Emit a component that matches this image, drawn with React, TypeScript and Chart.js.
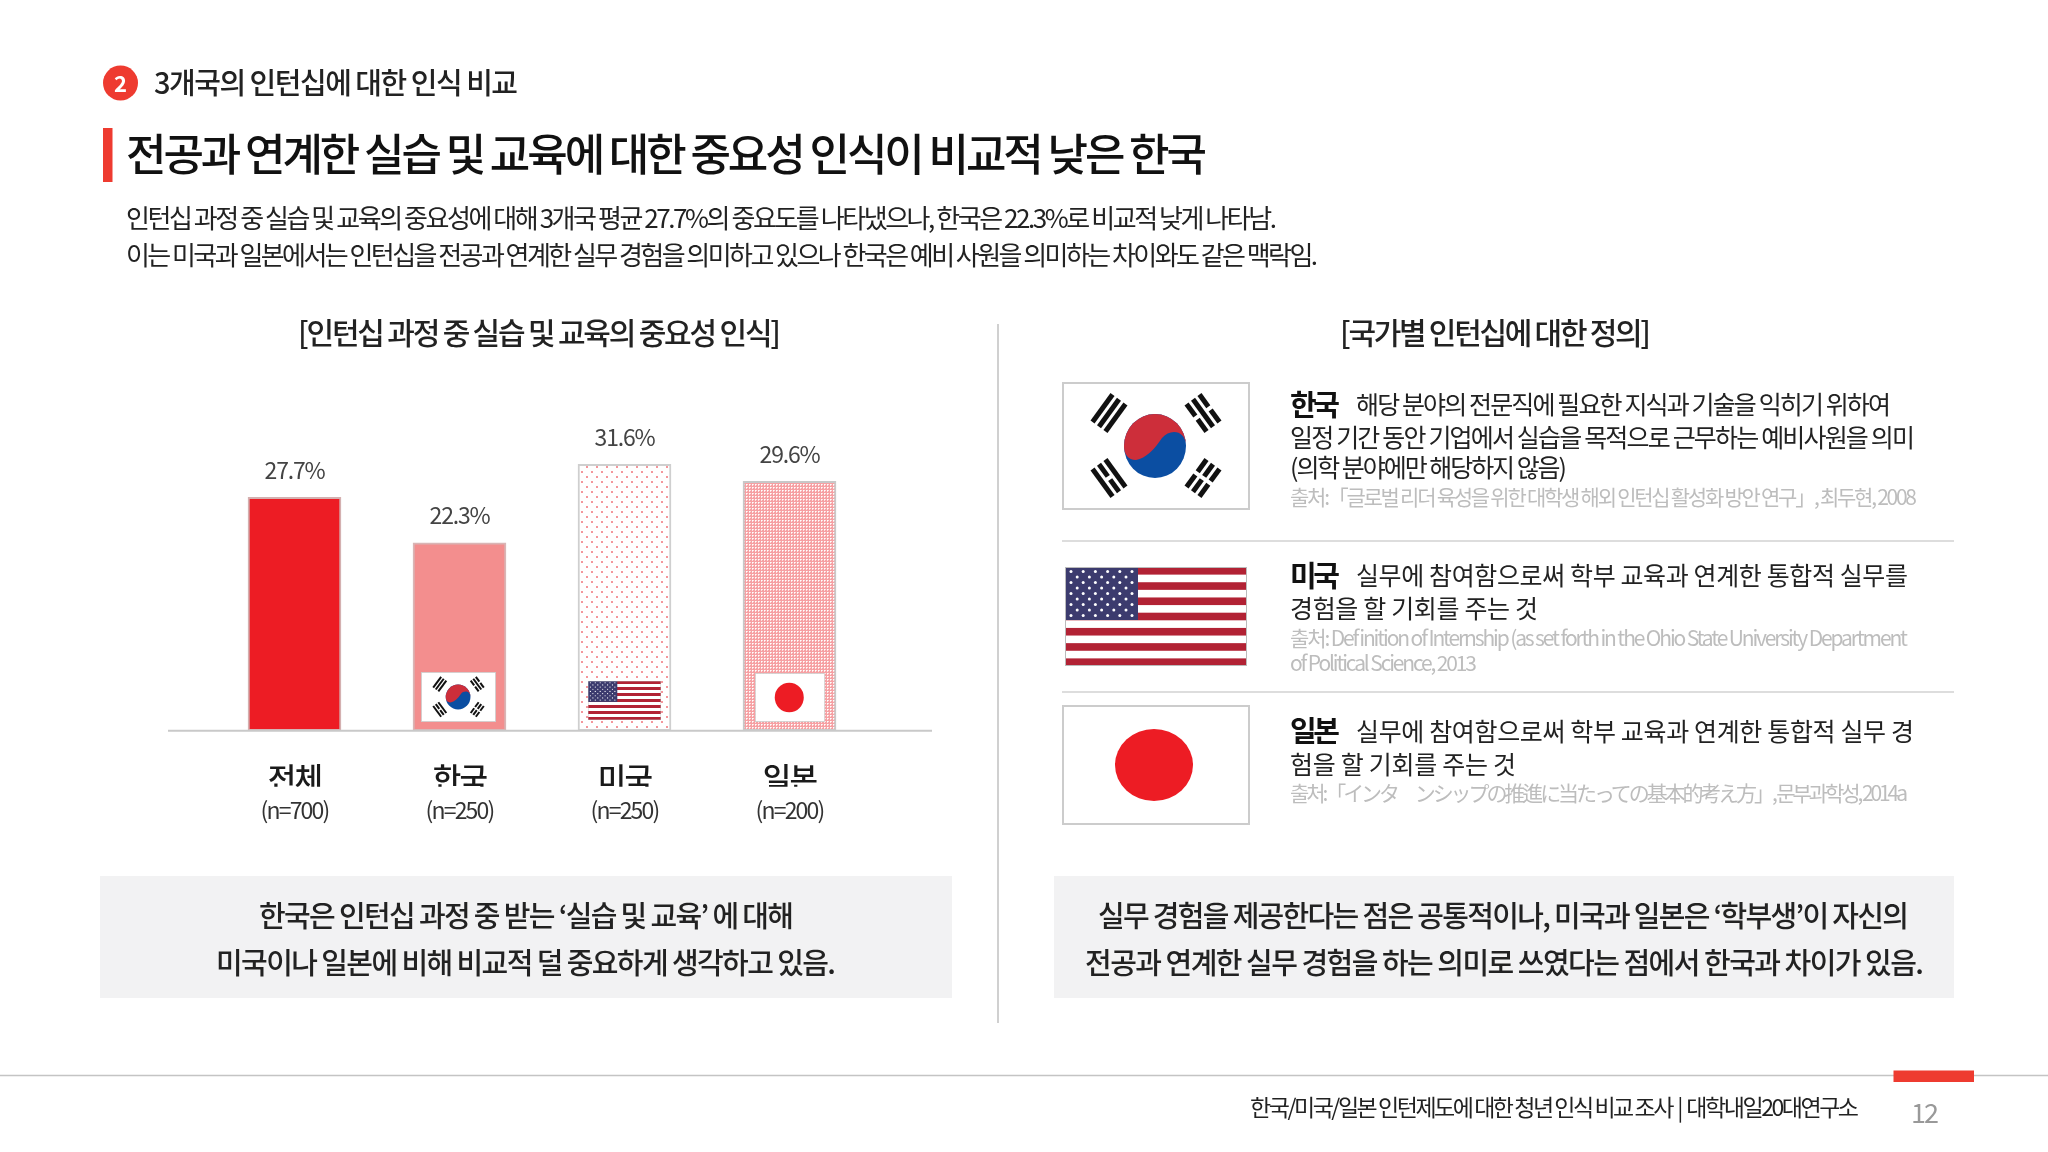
import { useEffect, useRef } from "react";
import Chart from "chart.js/auto";

const categories = ["전체", "한국", "미국", "일본"];
const sampleSizes = ["(n=700)", "(n=250)", "(n=250)", "(n=200)"];
const importance = [27.7, 22.3, 31.6, 29.6];

const FONT = '"Noto Sans CJK KR", "Noto Sans", sans-serif';
const RED = "#ed1c24";

// dotted / hatched fills for the US and Japan bars
function makePattern(kind: "dots" | "dense") {
  const tile = document.createElement("canvas");
  const size = kind === "dots" ? 10 : 3;
  tile.width = size;
  tile.height = size;
  const c = tile.getContext("2d")!;
  if (kind === "dots") {
    c.fillStyle = "#ffffff";
    c.fillRect(0, 0, size, size);
    c.fillStyle = "#f4979c";
    c.fillRect(1, 1, 2, 2);
    c.fillRect(6, 6, 2, 2);
  } else {
    c.fillStyle = "#f6a0a3";
    c.fillRect(0, 0, size, size);
    c.fillStyle = "#ffffff";
    c.fillRect(0, 0, 1, 1);
    c.fillStyle = "#fde0e0";
    c.fillRect(1, 0, 1, 1);
    c.fillRect(0, 1, 1, 1);
  }
  return c.createPattern(tile, "repeat")!;
}

function ImportanceChart() {
  const ref = useRef<HTMLCanvasElement | null>(null);

  useEffect(() => {
    if (!ref.current) return;
    const ctx = ref.current.getContext("2d");
    if (!ctx) return;

    const chart = new Chart(ctx, {
      type: "bar",
      data: {
        labels: categories,
        datasets: [
          {
            data: importance,
            backgroundColor: [RED, "#f38e8e", makePattern("dots"), makePattern("dense")],
            borderColor: ["#d4b0b0", "#d9b5b5", "#cfcfcf", "#c8c8c8"],
            borderWidth: 2,
            borderSkipped: false,
            barThickness: 93,
          },
        ],
      },
      options: {
        responsive: false,
        animation: false,
        layout: { padding: { left: 72, right: 88, top: 35.7, bottom: 33.3 } },
        plugins: { legend: { display: false }, tooltip: { enabled: false } },
        scales: {
          x: {
            grid: { display: false },
            border: { display: false },
            afterFit: (scale: any) => {
              scale.height = 56;
            },
            ticks: {
              color: "#1a1a1a",
              font: { family: FONT, size: 31, weight: 500 },
              padding: 21,
              maxRotation: 0,
              autoSkip: false,
            },
          },
          n: {
            type: "category",
            position: "bottom",
            labels: sampleSizes,
            grid: { display: false },
            border: { display: false },
            afterFit: (scale: any) => {
              scale.height = 40;
            },
            ticks: {
              color: "#333333",
              font: { family: FONT, size: 23 },
              padding: 2,
              maxRotation: 0,
              autoSkip: false,
            },
          },
          y: { display: false, min: 0, max: 35 },
        },
      },
      plugins: [
        {
          id: "tightText",
          beforeDraw: (c: Chart) => {
            (c.ctx as any).letterSpacing = "-1.8px";
          },
        },
        {
          id: "baselineAndValues",
          afterDatasetsDraw: (c: Chart) => {
            const g = c.ctx;
            const y0 = c.scales.y.getPixelForValue(0);
            g.save();
            g.strokeStyle = "#c9c9c9";
            g.lineWidth = 2;
            g.beginPath();
            g.moveTo(c.scales.x.left - 44, y0);
            g.lineTo(c.scales.x.right + 60, y0);
            g.stroke();
            (g as any).letterSpacing = "-1.2px";
            g.fillStyle = "#444444";
            g.font = `23px ${FONT}`;
            g.textAlign = "center";
            g.textBaseline = "middle";
            c.getDatasetMeta(0).data.forEach((bar, i) => {
              g.fillText(`${importance[i]}%`, bar.x, bar.y - 27);
            });
            g.restore();
          },
        },
      ],
    });

    return () => chart.destroy();
  }, []);

  return (
    <canvas
      ref={ref}
      width={820}
      height={460}
      style={{ position: "absolute", left: 140, top: 400, width: 820, height: 460 }}
    />
  );
}

// text stretched to the measured width of each line
function T(props: {
  x: number;
  y: number;
  w: number;
  size: number;
  weight?: number;
  fill?: string;
  children: string;
}) {
  const { x, y, w, size, weight = 400, fill = "#222222", children } = props;
  return (
    <text
      x={x}
      y={y}
      textLength={w}
      lengthAdjust="spacing"
      dominantBaseline="central"
      fontFamily={FONT}
      fontSize={size}
      fontWeight={weight}
      fill={fill}
      xmlSpace="preserve"
    >
      {children}
    </text>
  );
}

function Trigram(props: { cx: number; cy: number; angle: number; broken: boolean[] }) {
  const { cx, cy, angle, broken } = props;
  return (
    <g transform={`translate(${cx} ${cy}) rotate(${angle})`} fill="#111111">
      {broken.map((b, i) => {
        const y = -8 + i * 8 - 2.5;
        return b ? (
          <g key={i}>
            <rect x={-17} y={y} width={15} height={5} />
            <rect x={2} y={y} width={15} height={5} />
          </g>
        ) : (
          <rect key={i} x={-17} y={y} width={34} height={5} />
        );
      })}
    </g>
  );
}

function KoreaFlag(props: { x: number; y: number; w: number; h: number }) {
  const { x, y, w, h } = props;
  return (
    <svg x={x} y={y} width={w} height={h} viewBox="0 0 188 128" preserveAspectRatio="none">
      <rect x="1" y="1" width="186" height="126" fill="#ffffff" stroke="#cccccc" strokeWidth="2" />
      <Trigram cx={47} cy={31} angle={-54} broken={[false, false, false]} />
      <Trigram cx={141} cy={31} angle={54} broken={[true, false, true]} />
      <Trigram cx={47} cy={96} angle={54} broken={[false, true, false]} />
      <Trigram cx={141} cy={96} angle={-54} broken={[true, true, true]} />
      <ellipse cx="93" cy="64" rx="31" ry="32" fill="#0b4ea2" />
      <path
        d="M62 64 A31 32 0 0 1 124 64 C124 48 108 46 100 56 C92 68 84 76 74 78 C66 78 62 72 62 64 Z"
        fill="#cd2e3a"
      />
    </svg>
  );
}

function UsFlag(props: { x: number; y: number; w: number; h: number }) {
  const { x, y, w, h } = props;
  const stripes = Array.from({ length: 13 }, (_, i) => i);
  const stars: [number, number][] = [];
  for (let r = 0; r < 9; r++) {
    const n = r % 2 === 0 ? 6 : 5;
    for (let k = 0; k < n; k++) {
      stars.push([(r % 2 === 0 ? 6 : 12.2) + k * 12.2, 4.4 + r * 5.5]);
    }
  }
  return (
    <svg x={x} y={y} width={w} height={h} viewBox="0 0 182 99" preserveAspectRatio="none">
      <rect width="182" height="99" fill="#ffffff" />
      {stripes
        .filter((i) => i % 2 === 0)
        .map((i) => (
          <rect key={i} y={(i * 99) / 13} width="182" height={99 / 13} fill="#b22234" />
        ))}
      <rect width="73" height="53" fill="#3c3b6e" />
      {stars.map(([sx, sy], i) => (
        <circle key={i} cx={sx} cy={sy} r="1.5" fill="#ffffff" />
      ))}
      <rect x="0.5" y="0.5" width="181" height="98" fill="none" stroke="#bbbbbb" />
    </svg>
  );
}

function JapanFlag(props: { x: number; y: number; w: number; h: number }) {
  const { x, y, w, h } = props;
  return (
    <svg x={x} y={y} width={w} height={h} viewBox="0 0 188 120" preserveAspectRatio="none">
      <rect x="1" y="1" width="186" height="118" fill="#ffffff" stroke="#cccccc" strokeWidth="2" />
      <ellipse cx="92" cy="60" rx="39" ry="36" fill={RED} />
    </svg>
  );
}

const GREY_TEXT = "#bdbdbd";

export default function App() {
  return (
    <div
      style={{
        position: "absolute",
        left: 0,
        top: 0,
        width: 2048,
        height: 1152,
        background: "#ffffff",
        overflow: "hidden",
      }}
    >
      <ImportanceChart />
      <svg
        width={2048}
        height={1152}
        viewBox="0 0 2048 1152"
        style={{ position: "absolute", left: 0, top: 0, pointerEvents: "none" }}
      >
        {/* header */}
        <circle cx={120.5} cy={83} r={17.5} fill="#ee3b30" />
        <text
          x={120.5}
          y={82}
          textAnchor="middle"
          dominantBaseline="central"
          fontFamily={FONT}
          fontSize={22}
          fontWeight={700}
          fill="#ffffff"
        >
          2
        </text>
        <T x={154} y={81} w={364} size={29} weight={500}>
          3개국의 인턴십에 대한 인식 비교
        </T>
        <rect x={103} y={128} width={9.5} height={54} fill="#ee3b30" />
        <T x={126} y={152} w={1081} size={44} weight={500} fill="#111111">
          전공과 연계한 실습 및 교육에 대한 중요성 인식이 비교적 낮은 한국
        </T>
        <T x={126} y={216} w={1151} size={26}>
          인턴십 과정 중 실습 및 교육의 중요성에 대해 3개국 평균 27.7%의 중요도를 나타냈으나, 한국은 22.3%로 비교적 낮게 나타남.
        </T>
        <T x={126} y={253} w={1192} size={26}>
          이는 미국과 일본에서는 인턴십을 전공과 연계한 실무 경험을 의미하고 있으나 한국은 예비 사원을 의미하는 차이와도 같은 맥락임.
        </T>

        {/* section titles and divider */}
        <T x={298} y={331} w={483} size={30} weight={500}>
          [인턴십 과정 중 실습 및 교육의 중요성 인식]
        </T>
        <T x={1340} y={331} w={311} size={30} weight={500}>
          [국가별 인턴십에 대한 정의]
        </T>
        <line x1={998} y1={324} x2={998} y2={1023} stroke="#d0d0d0" strokeWidth={2} />

        {/* flags inside the bars */}
        <KoreaFlag x={421} y={672} w={75} h={50} />
        <UsFlag x={588} y={681} w={73} h={39} />
        <JapanFlag x={755} y={673} w={70} h={49} />

        {/* definitions */}
        <KoreaFlag x={1062} y={382} w={188} h={128} />
        <T x={1290} y={403} w={50} size={29} weight={700} fill="#111111">
          한국
        </T>
        <T x={1356} y={403} w={535} size={25}>
          해당 분야의 전문직에 필요한 지식과 기술을 익히기 위하여
        </T>
        <T x={1290} y={436} w={625} size={25}>
          일정 기간 동안 기업에서 실습을 목적으로 근무하는 예비사원을 의미
        </T>
        <T x={1290} y={466} w={277} size={25}>
          (의학 분야에만 해당하지 않음)
        </T>
        <T x={1290} y={496} w={627} size={21} fill={GREY_TEXT}>
          출처:「글로벌 리더 육성을 위한 대학생 해외 인턴십 활성화 방안 연구」, 최두현, 2008
        </T>
        <line x1={1062} y1={541} x2={1954} y2={541} stroke="#dddddd" strokeWidth={2} />

        <UsFlag x={1065} y={567} w={182} h={99} />
        <T x={1290} y={574} w={50} size={29} weight={700} fill="#111111">
          미국
        </T>
        <T x={1356} y={574} w={552} size={25}>
          실무에 참여함으로써 학부 교육과 연계한 통합적 실무를
        </T>
        <T x={1290} y={607} w={248} size={25}>
          경험을 할 기회를 주는 것
        </T>
        <T x={1290} y={637} w={618} size={21} fill={GREY_TEXT}>
          출처: Definition of Internship (as set forth in the Ohio State University Department
        </T>
        <T x={1290} y={662} w={187} size={21} fill={GREY_TEXT}>
          of Political Science, 2013
        </T>
        <line x1={1062} y1={692} x2={1954} y2={692} stroke="#dddddd" strokeWidth={2} />

        <JapanFlag x={1062} y={705} w={188} h={120} />
        <T x={1290} y={729} w={50} size={29} weight={700} fill="#111111">
          일본
        </T>
        <T x={1356} y={730} w={558} size={25}>
          실무에 참여함으로써 학부 교육과 연계한 통합적 실무 경
        </T>
        <T x={1290} y={763} w={226} size={25}>
          험을 할 기회를 주는 것
        </T>
        <T x={1290} y={792} w={618} size={21} fill={GREY_TEXT}>
          출처:「インタ　ンシップの推進に当たっての基本的考え方」, 문부과학성, 2014a
        </T>

        {/* callouts */}
        <rect x={100} y={876} width={852} height={122} fill="#f2f2f3" />
        <T x={259} y={914} w={535} size={29} weight={500}>
          한국은 인턴십 과정 중 받는 ‘실습 및 교육’ 에 대해
        </T>
        <T x={216} y={961} w={620} size={29} weight={500}>
          미국이나 일본에 비해 비교적 덜 중요하게 생각하고 있음.
        </T>
        <rect x={1054} y={876} width={900} height={122} fill="#f2f2f3" />
        <T x={1098} y={914} w={811} size={29} weight={500}>
          실무 경험을 제공한다는 점은 공통적이나, 미국과 일본은 ‘학부생’이 자신의
        </T>
        <T x={1085} y={961} w={839} size={29} weight={500}>
          전공과 연계한 실무 경험을 하는 의미로 쓰였다는 점에서 한국과 차이가 있음.
        </T>

        {/* footer */}
        <line x1={0} y1={1075.5} x2={2048} y2={1075.5} stroke="#c4c4c4" strokeWidth={1.5} />
        <rect x={1893.5} y={1070.5} width={80.5} height={11.5} fill="#ee3b30" />
        <T x={1250} y={1106} w={609} size={23}>
          {"한국/미국/일본 인턴제도에 대한 청년 인식 비교 조사  |  대학내일20대연구소"}
        </T>
        <T x={1911} y={1111} w={28} size={27} fill="#999999">
          12
        </T>
      </svg>
    </div>
  );
}
